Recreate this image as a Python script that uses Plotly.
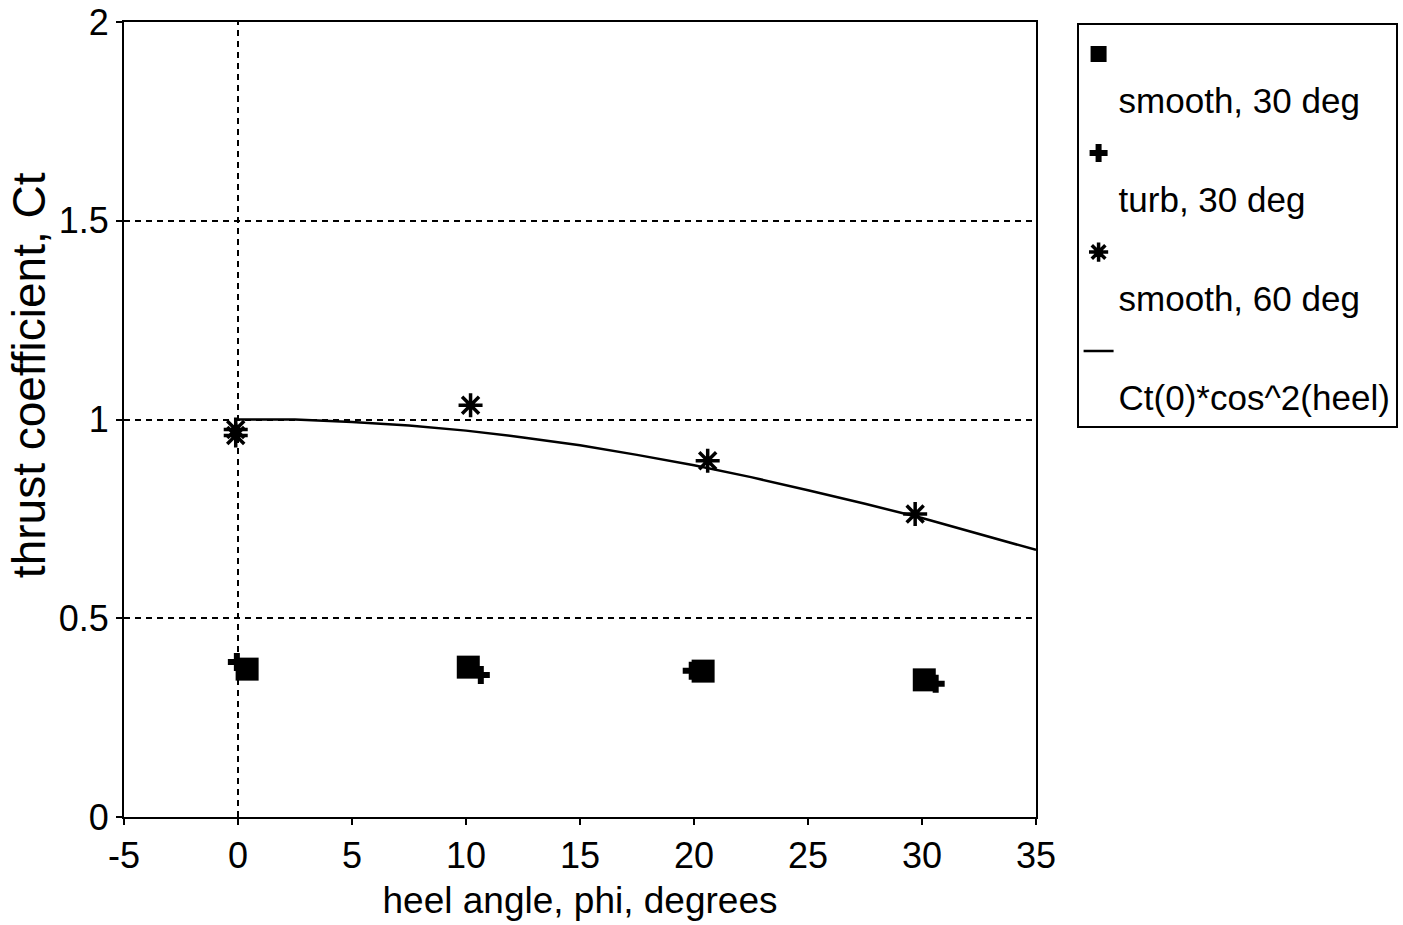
import plotly.graph_objects as go

# data
smooth30_x = [0.4, 10.1, 20.4, 30.1]
smooth30_y = [0.372, 0.377, 0.367, 0.345]
turb30_x = [-0.05, 10.65, 19.9, 30.6]
turb30_y = [0.390, 0.357, 0.368, 0.335]
smooth60_x = [-0.1, -0.1, 10.2, 20.6, 29.7]
smooth60_y = [0.975, 0.960, 1.036, 0.896, 0.762]
model_x = [0, 2.5, 5, 7.5, 10, 12.5, 15, 17.5, 20, 22.5, 25, 27.5, 30, 32.5, 35]
model_y = [1.0, 1.0, 0.994, 0.985, 0.972, 0.955, 0.935, 0.911, 0.885, 0.855,
           0.822, 0.788, 0.752, 0.712, 0.672]
x_ticks = [-5, 0, 5, 10, 15, 20, 25, 30, 35]
y_ticks = [0, 0.5, 1, 1.5, 2]

FONT = "Liberation Sans, Arial, sans-serif"
DASH = "6px,5px"

fig = go.Figure()
fig.add_trace(go.Scatter(
    x=smooth30_x, y=smooth30_y, mode="markers", name="&nbsp;<br>smooth, 30 deg",
    legendgroup="a",
    marker=dict(symbol="square", size=23, color="black")))
fig.add_trace(go.Scatter(
    x=turb30_x, y=turb30_y, mode="markers", name="&nbsp;<br>turb, 30 deg",
    legendgroup="b",
    marker=dict(symbol="cross", size=15, color="black")))
fig.add_trace(go.Scatter(
    x=smooth60_x, y=smooth60_y, mode="markers", name="&nbsp;<br>smooth, 60 deg",
    legendgroup="c",
    marker=dict(symbol="asterisk-open", size=20, color="black",
                line=dict(color="black", width=3.5))))
fig.add_trace(go.Scatter(
    x=model_x, y=model_y, mode="lines", name="&nbsp;<br>Ct(0)*cos^2(heel)",
    legendgroup="d",
    line=dict(color="black", width=2.5)))

# dashed vertical line at x = 0
fig.add_shape(type="line", xref="x", yref="paper", x0=0, x1=0, y0=0, y1=1,
              line=dict(color="black", width=2, dash=DASH), layer="below")

# y-axis title (placed slightly above centre as in the original)
fig.add_annotation(text="thrust coefficient, Ct", xref="paper", yref="paper",
                   x=-0.104, y=0.556, xanchor="center", yanchor="middle",
                   textangle=-90, showarrow=False,
                   font=dict(family=FONT, size=46, color="black"))

fig.update_layout(
    width=1403, height=925,
    margin=dict(l=124, r=367, t=22, b=108, autoexpand=False),
    paper_bgcolor="white", plot_bgcolor="white",
    font=dict(family=FONT, size=36, color="black"),
    showlegend=True,
    legend=dict(
        x=1.0445, y=0.999, xanchor="left", yanchor="top",
        bordercolor="black", borderwidth=2, bgcolor="white",
        font=dict(family=FONT, size=35, color="black"),
        valign="top", traceorder="grouped", tracegroupgap=5,
        itemwidth=30,
    ),
    xaxis=dict(
        range=[-5, 35], tickvals=x_ticks, ticktext=[str(v) for v in x_ticks],
        showgrid=False, zeroline=False, showline=True, linecolor="black",
        linewidth=2, mirror=True, ticks="outside", ticklen=6, tickwidth=2,
        tickcolor="black", automargin=False,
        title=dict(text="heel angle, phi, degrees", standoff=12,
                   font=dict(size=37)),
        tickfont=dict(size=36),
    ),
    yaxis=dict(
        range=[0, 2], tickvals=y_ticks, ticktext=["0", "0.5", "1", "1.5", "2"],
        showgrid=True, gridcolor="black", gridwidth=2, griddash=DASH,
        zeroline=False, showline=True, linecolor="black", linewidth=2,
        mirror=True, ticks="outside", ticklen=6, tickwidth=2, tickcolor="black",
        automargin=False,
        tickfont=dict(size=36),
    ),
)

fig.write_html("out.html")
